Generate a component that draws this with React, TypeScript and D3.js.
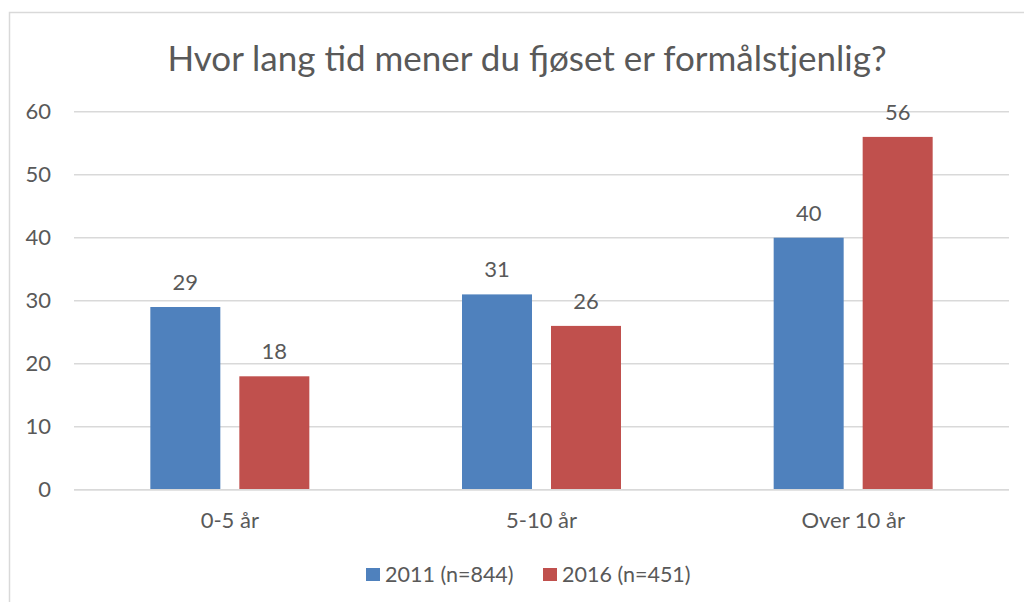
import { useEffect, useRef } from "react";
import * as d3 from "d3";

const title = "Hvor lang tid mener du fjøset er formålstjenlig?";
const categories = ["0-5 år", "5-10 år", "Over 10 år"];
const seriesNames = ["2011 (n=844)", "2016 (n=451)"];
const values2011 = [29, 31, 40];
const values2016 = [18, 26, 56];
const yTicks = [0, 10, 20, 30, 40, 50, 60];

const colors = ["#4F81BD", "#C0504D"];
const textColor = "#595959";
const gridColor = "#D9D9D9";
const font = "Lato, 'Open Sans', sans-serif";

export default function App() {
  const svgRef = useRef<SVGSVGElement>(null);
  const width = 1024;
  const height = 602;

  useEffect(() => {
    if (!svgRef.current) return;
    const svg = d3.select(svgRef.current);
    svg.selectAll("*").remove();

    // Chart frame
    svg.append("rect")
      .attr("x", 9.5)
      .attr("y", 12.5)
      .attr("width", 1040)
      .attr("height", 620)
      .attr("fill", "#fff")
      .attr("stroke", gridColor)
      .attr("stroke-width", 1.5);

    const plot = { left: 74, right: 1009, top: 111.7, bottom: 489.7 };

    const x = d3.scaleBand<string>()
      .domain(categories)
      .range([plot.left, plot.right]);

    const y = d3.scaleLinear()
      .domain([0, 60])
      .range([plot.bottom, plot.top]);

    // Grid
    svg.append("g")
      .selectAll("line")
      .data(yTicks)
      .join("line")
      .attr("x1", plot.left)
      .attr("x2", plot.right)
      .attr("y1", (d) => y(d))
      .attr("y2", (d) => y(d))
      .attr("stroke", gridColor)
      .attr("stroke-width", 1.5);

    // Y tick labels
    svg.append("g")
      .selectAll("text")
      .data(yTicks)
      .join("text")
      .attr("x", 51)
      .attr("y", (d) => y(d) + 7.5)
      .attr("text-anchor", "end")
      .attr("fill", textColor)
      .attr("font-family", font)
      .attr("font-size", 22)
      .text((d) => d);

    // Bars
    const barW = 70;
    const gap = 19;
    const series = [values2011, values2016];
    series.forEach((vals, si) => {
      const g = svg.append("g");
      const bx = (c: string) => {
        const center = (x(c) as number) + x.bandwidth() / 2;
        return si === 0 ? center - gap / 2 - barW : center + gap / 2;
      };
      g.selectAll("rect")
        .data(categories)
        .join("rect")
        .attr("x", (c) => bx(c))
        .attr("y", (_c, i) => y(vals[i]))
        .attr("width", barW)
        .attr("height", (_c, i) => y(0) - y(vals[i]))
        .attr("fill", colors[si]);

      g.selectAll("text")
        .data(categories)
        .join("text")
        .attr("x", (c) => bx(c) + barW / 2)
        .attr("y", (_c, i) => y(vals[i]) - 17)
        .attr("text-anchor", "middle")
        .attr("fill", textColor)
        .attr("font-family", font)
        .attr("font-size", 22)
        .text((_c, i) => vals[i]);
    });

    // Baseline
    svg.append("line")
      .attr("x1", plot.left)
      .attr("x2", plot.right)
      .attr("y1", y(0))
      .attr("y2", y(0))
      .attr("stroke", gridColor)
      .attr("stroke-width", 1.5);

    // Category labels
    svg.append("g")
      .selectAll("text")
      .data(categories)
      .join("text")
      .attr("x", (c) => (x(c) as number) + x.bandwidth() / 2)
      .attr("y", 528)
      .attr("text-anchor", "middle")
      .attr("fill", textColor)
      .attr("font-family", font)
      .attr("font-size", 22)
      .text((c) => c);

    // Title
    svg.append("text")
      .attr("x", 527)
      .attr("y", 71)
      .attr("text-anchor", "middle")
      .attr("fill", textColor)
      .attr("font-family", font)
      .attr("font-size", 35)
      .text(title);

    // Legend
    const legendX = [366, 543];
    seriesNames.forEach((name, i) => {
      svg.append("rect")
        .attr("x", legendX[i])
        .attr("y", 568)
        .attr("width", 14)
        .attr("height", 13)
        .attr("fill", colors[i]);
      svg.append("text")
        .attr("x", legendX[i] + 19)
        .attr("y", 582)
        .attr("fill", textColor)
        .attr("font-family", font)
        .attr("font-size", 21.5)
        .text(name);
    });
  }, []);

  return (
    <svg
      ref={svgRef}
      width={width}
      height={height}
      style={{ position: "absolute", left: 0, top: 0, background: "#fff" }}
    />
  );
}
